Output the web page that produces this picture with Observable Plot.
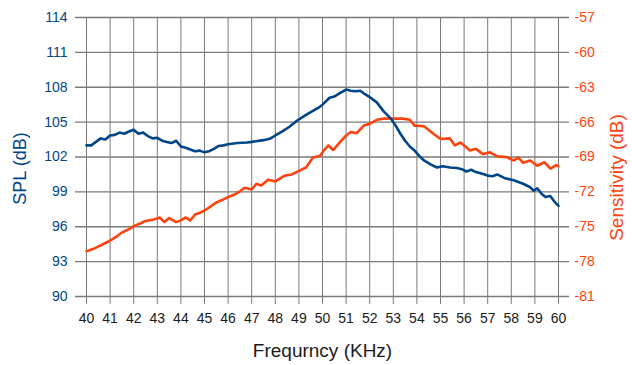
<!DOCTYPE html>
<html>
<head>
<meta charset="utf-8">
<script src="https://cdn.jsdelivr.net/npm/d3@7"></script>
<script src="https://cdn.jsdelivr.net/npm/@observablehq/plot@0.6"></script>
<style>
  html, body { margin: 0; padding: 0; background: #fff; }
</style>
</head>
<body>
<div id="chart"></div>
<script>
const freqTicks = [40,41,42,43,44,45,46,47,48,49,50,51,52,53,54,55,56,57,58,59,60];
const splTicks = [90,93,96,99,102,105,108,111,114];
const sensTicks = [-81,-78,-75,-72,-69,-66,-63,-60,-57];

const splFreq = [40.0,40.2,40.4,40.6,40.8,41.0,41.2,41.4,41.6,41.8,42.0,42.2,42.4,42.6,42.8,43.0,43.2,43.4,43.6,43.8,44.0,44.2,44.4,44.6,44.8,45.0,45.2,45.4,45.6,45.8,46.0,46.4,46.8,47.0,47.5,47.8,48.0,48.3,48.6,48.9,49.2,49.5,49.8,50.0,50.3,50.5,50.7,51.0,51.2,51.4,51.6,51.8,52.0,52.3,52.6,52.9,53.1,53.3,53.5,53.7,53.9,54.1,54.3,54.6,54.85,55.1,55.4,55.7,55.9,56.1,56.3,56.5,56.7,57.0,57.2,57.4,57.7,58.1,58.5,58.8,58.95,59.1,59.3,59.45,59.65,59.85,60.0];
const splValues = [103.0,103.0,103.3,103.6,103.5,103.85,103.9,104.1,104.0,104.2,104.35,104.0,104.1,103.8,103.6,103.65,103.4,103.3,103.2,103.4,102.9,102.8,102.65,102.5,102.55,102.4,102.5,102.7,102.95,103.0,103.1,103.2,103.25,103.3,103.45,103.6,103.85,104.2,104.6,105.1,105.5,105.85,106.2,106.5,107.1,107.2,107.45,107.8,107.7,107.65,107.7,107.4,107.15,106.7,105.9,105.3,104.7,104.0,103.4,102.9,102.55,102.1,101.7,101.35,101.1,101.2,101.1,101.05,100.95,100.75,100.9,100.7,100.6,100.4,100.35,100.5,100.2,100.0,99.7,99.4,99.1,99.3,98.8,98.55,98.65,98.1,97.8];

const sensFreq = [40.0,40.3,40.6,40.8,41.0,41.3,41.5,41.8,42.0,42.3,42.5,42.8,43.0,43.1,43.3,43.5,43.8,44.0,44.2,44.4,44.6,44.8,45.0,45.3,45.5,45.8,46.0,46.3,46.5,46.7,47.0,47.2,47.4,47.7,48.0,48.4,48.7,49.0,49.3,49.6,49.9,50.05,50.25,50.45,50.75,51.0,51.2,51.45,51.75,52.0,52.3,52.6,53.0,53.4,53.7,53.9,54.3,54.7,55.0,55.4,55.6,55.85,56.25,56.5,56.8,57.1,57.4,57.8,58.1,58.3,58.5,58.8,59.1,59.4,59.66,59.9,60.0];
const sensValues = [-77.1,-76.9,-76.6,-76.4,-76.2,-75.8,-75.5,-75.2,-74.95,-74.7,-74.5,-74.4,-74.3,-74.2,-74.6,-74.25,-74.6,-74.45,-74.2,-74.45,-73.95,-73.8,-73.6,-73.2,-72.9,-72.65,-72.45,-72.2,-71.95,-71.65,-71.8,-71.3,-71.45,-70.95,-71.1,-70.6,-70.5,-70.2,-69.9,-69.05,-68.9,-68.45,-68.0,-68.4,-67.7,-67.15,-66.85,-66.95,-66.3,-66.15,-65.8,-65.7,-65.7,-65.7,-65.8,-66.3,-66.35,-67.0,-67.45,-67.4,-68.0,-67.75,-68.45,-68.3,-68.75,-68.6,-68.95,-69.0,-69.3,-69.05,-69.5,-69.3,-69.75,-69.45,-70.0,-69.7,-69.8];

const blue = "#004586";
const orange = "#ff420e";
const grid = "#7a7a7a";
// right axis maps onto left axis: -57 <-> 114, -81 <-> 90
const offset = splTicks[splTicks.length - 1] - sensTicks[sensTicks.length - 1];

const splData = splFreq.map((f, i) => ({f, v: splValues[i]}));
const sensData = sensFreq.map((f, i) => ({f, v: sensValues[i] + offset}));

const chart = Plot.plot({
  width: 632,
  height: 365,
  marginLeft: 86,
  marginRight: 74,
  marginTop: 17,
  marginBottom: 69,
  style: {fontFamily: "'Liberation Sans', Arial, sans-serif", fontSize: "14px", background: "#fff"},
  x: {domain: [freqTicks[0], freqTicks[freqTicks.length - 1]]},
  y: {domain: [splTicks[0], splTicks[splTicks.length - 1]]},
  marks: [
    Plot.ruleX(freqTicks, {stroke: grid, strokeWidth: 1, insetBottom: -8}),
    Plot.ruleY(splTicks, {stroke: grid, strokeWidth: 1.3, insetLeft: -11, insetRight: -11}),
    Plot.lineY(sensData, {x: "f", y: "v", stroke: orange, strokeWidth: 2.6}),
    Plot.lineY(splData, {x: "f", y: "v", stroke: blue, strokeWidth: 2.6}),
    Plot.axisX({ticks: freqTicks, tickSize: 0, tickPadding: 17, fill: "#1a1a1a", fontSize: 14, label: null}),
    Plot.axisY({ticks: splTicks, anchor: "left", tickSize: 0, tickPadding: 19, fill: blue, fontSize: 14, label: null}),
    Plot.axisY({ticks: sensTicks.map(d => d + offset), anchor: "right", tickSize: 0, tickPadding: 16, fill: orange, fontSize: 14, label: null, tickFormat: d => String(d - offset)}),
    Plot.text(["Frequrncy (KHz)"], {frameAnchor: "bottom", dy: 54, lineAnchor: "middle", textAnchor: "middle", fontSize: 19, fill: "#1a1a1a"}),
    Plot.text(["SPL (dB)"], {frameAnchor: "left", dx: -66, dy: 11.5, rotate: -90, lineAnchor: "middle", textAnchor: "middle", fontSize: 18, fill: blue}),
    Plot.text(["Sensitivity (dB)"], {frameAnchor: "right", dx: 58, dy: 20.5, rotate: -90, lineAnchor: "middle", textAnchor: "middle", fontSize: 19, fill: orange})
  ]
});
document.getElementById("chart").appendChild(chart);
</script>
</body>
</html>
